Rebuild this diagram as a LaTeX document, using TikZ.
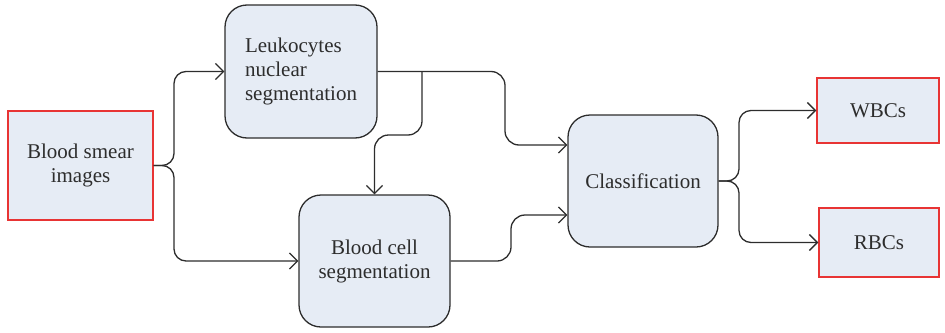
\documentclass[tikz,border=0pt]{standalone}
\usepackage{fontspec}
\setmainfont{Liberation Serif}
\usetikzlibrary{arrows.meta}
\definecolor{BoxFill}{RGB}{230,236,245}
\definecolor{BoxRed}{RGB}{232,52,52}
\definecolor{LineGray}{RGB}{45,45,45}
\tikzstyle{InBox} = [draw=BoxRed, fill=BoxFill, line width=0.7pt, align=center, text=LineGray]
\tikzstyle{StepBox} = [draw=LineGray, fill=BoxFill, rounded corners=11pt, line width=0.65pt, align=center, text=LineGray]
\tikzstyle{Link} = [draw=LineGray, line width=0.65pt, arrows=->]

\begin{document}
\begin{tikzpicture}[x=0.5pt,y=-0.5pt,>={Straight Barb[length=4pt,width=8pt]},font=\fontsize{10.5}{12}\selectfont]
\useasboundingbox (0,0) rectangle (945,332);

\node[InBox, minimum width=72.5pt, minimum height=54.5pt] (smear) at (80.5,165.5) {Blood smear\\images};
\node[StepBox, minimum width=76pt, minimum height=66.5pt, align=left] (nucl) at (301,71.5) {Leukocytes\\nuclear\\segmentation};
\node[StepBox, minimum width=75.5pt, minimum height=66pt] (cellseg) at (374.5,261) {Blood cell\\segmentation};
\node[StepBox, minimum width=75pt, minimum height=66pt] (classif) at (643,181) {Classification};
\node[InBox, minimum width=61pt, minimum height=32.5pt] (wbc) at (878,110.5) {WBCs};
\node[InBox, minimum width=60pt, minimum height=34.5pt] (rbc) at (879,242.5) {RBCs};

% split and bend points
\coordinate (splitA) at (174,165.5);
\coordinate (bendA) at (505,145);
\coordinate (branchB) at (422,71.5);
\coordinate (turnB) at (374.5,135);
\coordinate (bendC) at (511,215);
\coordinate (splitD) at (739,181);

\draw[Link, rounded corners=6pt] (smear.east) -- (splitA) |- (nucl.west);
\draw[Link, rounded corners=6pt] (smear.east) -- (splitA) |- (cellseg.west);
\draw[Link, rounded corners=7pt] (nucl.east) -| (bendA) -- ([yshift=18pt]classif.west);
\draw[Link, rounded corners=7pt] (branchB) |- (turnB) -- (cellseg.north);
\draw[Link, rounded corners=7pt] (cellseg.east) -| (bendC) -- ([yshift=-17pt]classif.west);
\draw[Link, rounded corners=6pt] (classif.east) -- (splitD) |- (wbc.west);
\draw[Link, rounded corners=6pt] (classif.east) -- (splitD) |- (rbc.west);

\end{tikzpicture}
\end{document}
